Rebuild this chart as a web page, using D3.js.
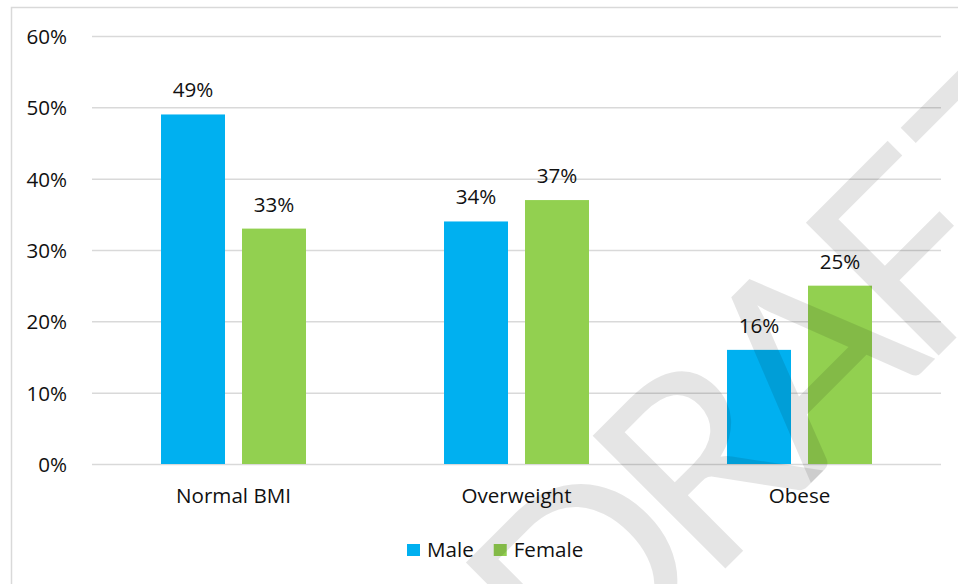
<!DOCTYPE html>
<html>
<head>
<meta charset="utf-8">
<script src="https://cdn.jsdelivr.net/npm/d3@7"></script>
<style>
  html, body { margin: 0; padding: 0; background: #ffffff; }
  svg { display: block; }
</style>
</head>
<body>
<svg id="chart" width="958" height="584"></svg>
<script>
// ---- data ----
const categories = ["Normal BMI", "Overweight", "Obese"];
const seriesNames = ["Male", "Female"];
const maleValues = [49, 34, 16];
const femaleValues = [33, 37, 25];
const yTickValues = [0, 10, 20, 30, 40, 50, 60];
const seriesColors = ["#00b0f0", "#92d050"];
const watermarkText = "DRAFT";

const seriesValues = [maleValues, femaleValues];
const FONT = "'Open Sans', Lato, sans-serif";
const FS = "20.6px";
const WM_FONT = "Lato, 'Open Sans', sans-serif";
const plot = { left: 92, right: 941, top: 36, bottom: 464 };

const svg = d3.select("#chart");

// chart frame (extends past the window on the right and bottom)
svg.append("rect")
  .attr("x", 11.5).attr("y", 7.5)
  .attr("width", 1000).attr("height", 700)
  .attr("fill", "#ffffff")
  .attr("stroke", "#d9d9d9").attr("stroke-width", 1.5);

const y = d3.scaleLinear().domain([0, 60]).range([plot.bottom, plot.top]);
const x0 = d3.scaleBand().domain(categories).range([plot.left, plot.right]);
const x1 = d3.scaleBand().domain(seriesNames).range([0, x0.bandwidth()])
  .paddingInner(0.21).paddingOuter(0.852);

// y axis with gridlines
const yAxis = svg.append("g")
  .attr("transform", `translate(${plot.left},0)`)
  .call(d3.axisLeft(y).tickValues(yTickValues).tickFormat(d => d + "%")
    .tickSize(-(plot.right - plot.left)).tickPadding(25));
yAxis.select(".domain").remove();
yAxis.selectAll(".tick line").attr("stroke", "#d9d9d9").attr("stroke-width", 1.5);
yAxis.selectAll(".tick text")
  .attr("fill", "#111").attr("dy", "0.36em")
  .style("font-family", FONT).style("font-size", FS);

// bars
const groups = svg.append("g").selectAll("g")
  .data(categories)
  .join("g")
  .attr("transform", d => `translate(${x0(d)},0)`);

groups.selectAll("rect")
  .data((d, i) => seriesNames.map((s, j) => ({ s, j, v: seriesValues[j][i] })))
  .join("rect")
  .attr("x", d => x1(d.s))
  .attr("width", x1.bandwidth())
  .attr("y", d => y(d.v))
  .attr("height", d => y(0) - y(d.v))
  .attr("fill", d => seriesColors[d.j]);

groups.selectAll("text.val")
  .data((d, i) => seriesNames.map((s, j) => ({ s, j, v: seriesValues[j][i] })))
  .join("text")
  .attr("class", "val")
  .attr("x", d => x1(d.s) + x1.bandwidth() / 2)
  .attr("y", d => y(d.v) - 17)
  .attr("text-anchor", "middle")
  .attr("fill", "#111")
  .style("font-family", FONT).style("font-size", FS)
  .text(d => d.v + "%");

// x axis labels
const xAxis = svg.append("g")
  .attr("transform", `translate(0,${plot.bottom})`)
  .call(d3.axisBottom(x0).tickSize(0));
xAxis.select(".domain").remove();
xAxis.selectAll(".tick text")
  .attr("y", 39).attr("dy", null)
  .attr("fill", "#111").style("font-family", FONT).style("font-size", FS);

// legend
const legend = svg.append("g");
let lx = 407;
seriesNames.forEach((name, j) => {
  const g = legend.append("g");
  g.append("rect").attr("x", lx).attr("y", 544).attr("width", 13).attr("height", 12)
    .attr("fill", seriesColors[j]);
  const t = g.append("text").attr("x", lx + 20).attr("y", 557)
    .attr("fill", "#111").style("font-family", FONT).style("font-size", FS)
    .text(name);
  lx = lx + 20 + t.node().getComputedTextLength() + 20;
});

// watermark
const wm = svg.append("g");
const wt = wm.append("text")
  .attr("x", 0).attr("y", 0)
  .attr("dx", "0 0 0 0 26")
  .attr("fill", "#000").attr("fill-opacity", 0.1)
  .attr("letter-spacing", -20)
  .style("font-family", WM_FONT).style("font-size", "262px")
  .text(watermarkText);
const ext = wt.node().getExtentOfChar(2);
const aCenter = ext.x + ext.width / 2;
wm.attr("transform", `translate(866,428) rotate(-45) translate(${-aCenter},0)`);
</script>
</body>
</html>
